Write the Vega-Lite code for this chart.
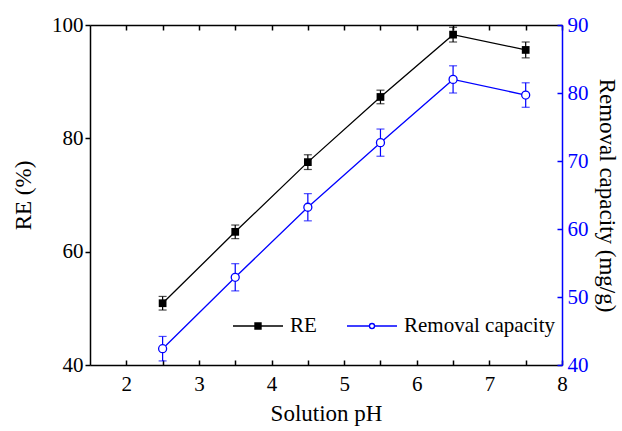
{
  "$schema": "https://vega.github.io/schema/vega-lite/v6.json",
  "width": 472,
  "height": 340,
  "autosize": {"type": "none"},
  "padding": {"left": 90, "top": 25, "right": 60, "bottom": 66},
  "background": "white",
  "config": {
    "font": "Liberation Serif",
    "view": {"stroke": null},
    "axis": {
      "grid": false,
      "labelFont": "Liberation Serif",
      "titleFont": "Liberation Serif",
      "labelFontSize": 21,
      "titleFontSize": 23,
      "titleFontWeight": "normal",
      "labelColor": "black",
      "titleColor": "black",
      "domainColor": "black",
      "tickColor": "black",
      "domainWidth": 1.5,
      "tickWidth": 1.5
    }
  },
  "data": {
    "values": [
      {"pH": 2.5, "series": "RE", "value": 50.9, "err": 1.2},
      {"pH": 3.5, "series": "RE", "value": 63.5, "err": 1.2},
      {"pH": 4.5, "series": "RE", "value": 75.8, "err": 1.3},
      {"pH": 5.5, "series": "RE", "value": 87.3, "err": 1.2},
      {"pH": 6.5, "series": "RE", "value": 98.3, "err": 1.3},
      {"pH": 7.5, "series": "RE", "value": 95.6, "err": 1.4},
      {"pH": 2.5, "series": "Removal capacity", "value": 42.4, "err": 1.8},
      {"pH": 3.5, "series": "Removal capacity", "value": 52.9, "err": 2.0},
      {"pH": 4.5, "series": "Removal capacity", "value": 63.2, "err": 2.0},
      {"pH": 5.5, "series": "Removal capacity", "value": 72.7, "err": 2.0},
      {"pH": 6.5, "series": "Removal capacity", "value": 82.0, "err": 2.0},
      {"pH": 7.5, "series": "Removal capacity", "value": 79.7, "err": 1.8}
    ]
  },
  "layer": [
    {
      "transform": [{"filter": "datum.series === 'RE'"}],
      "encoding": {
        "x": {
          "field": "pH", "type": "quantitative",
          "scale": {"domain": [1.5, 8], "nice": false, "zero": false},
          "axis": {
            "orient": "bottom",
            "title": "Solution pH",
            "values": [2, 2.5, 3, 3.5, 4, 4.5, 5, 5.5, 6, 6.5, 7, 7.5, 8],
            "labelExpr": "datum.value % 1 === 0 ? format(datum.value, 'd') : ''",
            "labelFont": "Liberation Serif",
            "titleFont": "Liberation Serif",
            "tickSize": -5,
            "labelPadding": 13,
            "titlePadding": 8,
            "labelFlush": false
          }
        },
        "y": {
          "field": "value", "type": "quantitative",
          "scale": {"domain": [40, 100], "nice": false, "zero": false},
          "axis": {
            "orient": "left",
            "title": "RE (%)",
            "values": [40, 60, 80, 100],
            "labelFont": "Liberation Serif",
            "titleFont": "Liberation Serif",
            "tickSize": 5,
            "labelPadding": 2,
            "titlePadding": 16
          }
        }
      },
      "layer": [
        {
          "mark": {"type": "errorbar", "color": "black", "thickness": 1.2, "ticks": {"size": 8}},
          "encoding": {"yError": {"field": "err"}}
        },
        {
          "mark": {"type": "line", "strokeWidth": 1.3},
          "encoding": {
            "color": {
              "field": "series", "type": "nominal",
              "scale": {"domain": ["RE", "Removal capacity"], "range": ["black", "blue"]},
              "legend": {
                "orient": "none",
                "legendX": 142,
                "legendY": 275,
                "direction": "horizontal",
                "title": null,
                "symbolSize": 2500,
                "symbolStrokeWidth": 1.4,
                "labelFont": "Liberation Serif",
                "labelFontSize": 21,
                "labelColor": "black",
                "labelOffset": 6,
                "columnPadding": 27,
                "encode": {
                  "symbols": {
                    "update": {
                      "shape": {"signal": "datum.value === 'RE' ? 'M-1,0H1M-0.12,-0.12H0.12V0.12H-0.12Z' : 'M-1,0H-0.1M0.1,0H1M-0.1,0A0.1,0.1,0,1,0,0.1,0A0.1,0.1,0,1,0,-0.1,0Z'"},
                      "fill": {"signal": "datum.value === 'RE' ? 'black' : 'white'"},
                      "stroke": {"signal": "datum.value === 'RE' ? 'black' : 'blue'"},
                      "fillOpacity": {"value": 1},
                      "strokeWidth": {"value": 1.4}
                    }
                  }
                }
              }
            }
          }
        },
        {
          "mark": {"type": "point", "shape": "square", "filled": true, "color": "black", "size": 60, "opacity": 1}
        }
      ]
    },
    {
      "transform": [{"filter": "datum.series === 'Removal capacity'"}],
      "encoding": {
        "x": {
          "field": "pH", "type": "quantitative",
          "scale": {"domain": [1.5, 8], "nice": false, "zero": false},
          "axis": {
            "orient": "top",
            "title": null,
            "labels": false,
            "values": [2, 2.5, 3, 3.5, 4, 4.5, 5, 5.5, 6, 6.5, 7, 7.5, 8],
            "tickSize": -5
          }
        },
        "y": {
          "field": "value", "type": "quantitative",
          "scale": {"domain": [40, 90], "nice": false, "zero": false},
          "axis": {
            "orient": "right",
            "title": "Removal capacity (mg/g)",
            "values": [40, 50, 60, 70, 80, 90],
            "labelFont": "Liberation Serif",
            "titleFont": "Liberation Serif",
            "tickSize": -5,
            "labelPadding": 10,
            "titlePadding": 6,
            "domainColor": "blue",
            "tickColor": "blue",
            "labelColor": "blue"
          }
        }
      },
      "layer": [
        {
          "mark": {"type": "errorbar", "color": "blue", "thickness": 1.2, "ticks": {"size": 8}},
          "encoding": {"yError": {"field": "err"}}
        },
        {
          "mark": {"type": "line", "strokeWidth": 1.3},
          "encoding": {
            "color": {
              "field": "series", "type": "nominal",
              "scale": {"domain": ["RE", "Removal capacity"], "range": ["black", "blue"]}
            }
          }
        },
        {
          "mark": {"type": "point", "shape": "circle", "filled": false, "fill": "white", "fillOpacity": 1, "stroke": "blue", "strokeWidth": 1.3, "size": 64, "opacity": 1}
        }
      ]
    }
  ],
  "resolve": {"scale": {"y": "independent"}}
}
